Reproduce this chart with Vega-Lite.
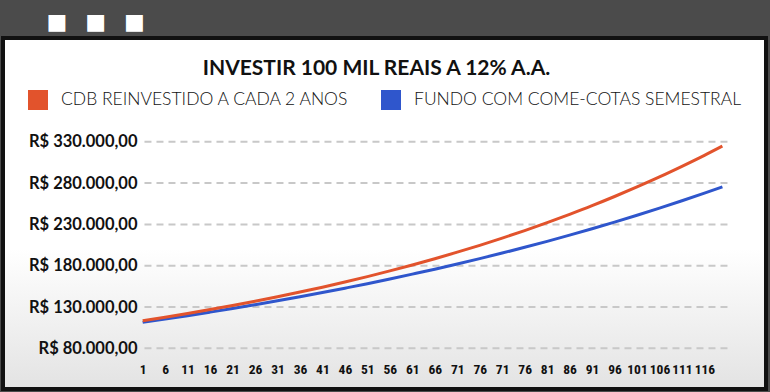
{
  "$schema": "https://vega.github.io/schema/vega-lite/v6.json",
  "autosize": {"type": "none"},
  "width": 763,
  "height": 351,
  "padding": {"left": 3, "top": 38, "right": 4, "bottom": 3},
  "background": "#4b4b4b",
  "config": {
    "locale": {"number": {"decimal": ",", "thousands": ".", "grouping": [3], "currency": ["R$ ", ""]}},
    "view": {
      "fill": {"gradient": "linear", "x1": 0, "y1": 0, "x2": 0, "y2": 1, "stops": [{"offset": 0, "color": "#ffffff"}, {"offset": 0.6, "color": "#ffffff"}, {"offset": 1, "color": "#e3e3e3"}]},
      "stroke": "#111111",
      "strokeWidth": 4
    },
    "axis": {"labelOverlap": false},
    "font": "Lato"
  },
  "title": {"text": "INVESTIR 100 MIL REAIS A 12% A.A.", "anchor": "middle", "offset": -37, "baseline": "alphabetic", "font": "Lato", "fontSize": 21, "fontWeight": "bold", "color": "#111111", "dx": -8, "dy": 49},
  "datasets": {
    "serie": [
      {"mes": 1, "cdb": 113400, "fundo": 111400},
      {"mes": 6, "cdb": 117700, "fundo": 115400},
      {"mes": 11, "cdb": 122200, "fundo": 119500},
      {"mes": 16, "cdb": 126900, "fundo": 123800},
      {"mes": 21, "cdb": 131800, "fundo": 128200},
      {"mes": 26, "cdb": 137000, "fundo": 132800},
      {"mes": 31, "cdb": 142400, "fundo": 137500},
      {"mes": 36, "cdb": 148100, "fundo": 142400},
      {"mes": 41, "cdb": 154000, "fundo": 147500},
      {"mes": 46, "cdb": 160300, "fundo": 152800},
      {"mes": 51, "cdb": 166800, "fundo": 158200},
      {"mes": 56, "cdb": 173700, "fundo": 163900},
      {"mes": 61, "cdb": 180900, "fundo": 169800},
      {"mes": 66, "cdb": 188500, "fundo": 175800},
      {"mes": 71, "cdb": 196400, "fundo": 182100},
      {"mes": 76, "cdb": 204700, "fundo": 188600},
      {"mes": 81, "cdb": 213400, "fundo": 195300},
      {"mes": 86, "cdb": 222500, "fundo": 202300},
      {"mes": 91, "cdb": 232100, "fundo": 209500},
      {"mes": 96, "cdb": 242200, "fundo": 217000},
      {"mes": 101, "cdb": 252700, "fundo": 224800},
      {"mes": 106, "cdb": 263800, "fundo": 232800},
      {"mes": 111, "cdb": 275400, "fundo": 241100},
      {"mes": 116, "cdb": 287500, "fundo": 249700},
      {"mes": 121, "cdb": 300300, "fundo": 258700},
      {"mes": 126, "cdb": 313600, "fundo": 267900},
      {"mes": 130, "cdb": 324800, "fundo": 275500}
    ],
    "grade": [{"v": 80000}, {"v": 130000}, {"v": 180000}, {"v": 230000}, {"v": 280000}, {"v": 330000}]
  },
  "layer": [
    {
      "data": {"name": "grade"},
      "mark": {"type": "rule", "strokeDash": [7, 5], "color": "#c8c8c8", "strokeWidth": 2},
      "encoding": {
        "y": {"field": "v", "type": "quantitative",
          "scale": {"domain": [30730, 455700], "nice": false, "zero": false},
          "axis": {"values": [80000, 130000, 180000, 230000, 280000, 330000], "format": "$,.2f", "offset": -134, "grid": false, "ticks": false, "tickSize": 0, "domain": false, "labelPadding": 0, "labelFont": "Lato", "labelFontSize": 16.5, "labelFontWeight": "bold", "labelColor": "#111111", "title": "■ \u2002■ \u2002■", "titleAngle": 0, "titleX": -91, "titleY": -17, "titleAlign": "left", "titleBaseline": "middle", "titleColor": "#ffffff", "titleFont": "DejaVu Sans", "titleFontSize": 22, "titleFontWeight": "normal"}},
        "x": {"datum": 1.4, "type": "quantitative",
          "scale": {"domain": [-30.08, 139.7], "nice": false, "zero": false},
          "axis": {"values": [1, 6, 11, 16, 21, 26, 31, 36, 41, 46, 51, 56, 61, 66, 71, 76, 81, 86, 91, 96, 101, 106, 111, 116, 121, 126], "labelExpr": "['1','6','11','16','21','26','31','36','41','46','51','56','61','66','71','76','71','76','81','86','91','96','101','106','111','116'][round((datum.value-1)/5)]", "offset": -27, "grid": false, "ticks": false, "tickSize": 0, "domain": false, "labelPadding": 0, "labelOverlap": false, "labelFlush": false, "labelFont": "Roboto Condensed, Inter", "labelFontSize": 13.5, "labelFontWeight": "bold", "labelColor": "#111111", "title": null}},
        "x2": {"datum": 132}
      }
    },
    {
      "data": {"name": "serie"},
      "mark": {"type": "line", "strokeWidth": 3, "interpolate": "monotone"},
      "encoding": {
        "x": {"field": "mes", "type": "quantitative", "scale": {"domain": [-30.08, 139.7], "nice": false, "zero": false},
          "axis": {"values": [1, 6, 11, 16, 21, 26, 31, 36, 41, 46, 51, 56, 61, 66, 71, 76, 81, 86, 91, 96, 101, 106, 111, 116, 121, 126], "labelExpr": "['1','6','11','16','21','26','31','36','41','46','51','56','61','66','71','76','71','76','81','86','91','96','101','106','111','116'][round((datum.value-1)/5)]", "offset": -27, "grid": false, "ticks": false, "tickSize": 0, "domain": false, "labelPadding": 0, "labelOverlap": false, "labelFlush": false, "labelFont": "Roboto Condensed, Inter", "labelFontSize": 13.5, "labelFontWeight": "bold", "labelColor": "#111111", "title": null}},
        "y": {"field": "fundo", "type": "quantitative", "scale": {"domain": [30730, 455700], "nice": false, "zero": false}},
        "color": {"datum": "FUNDO COM COME-COTAS SEMESTRAL",
          "scale": {"domain": ["CDB REINVESTIDO A CADA 2 ANOS", "FUNDO COM COME-COTAS SEMESTRAL"], "range": ["#e2532c", "#2f56cc"]},
          "legend": {"orient": "none", "legendX": 25, "legendY": 52, "direction": "horizontal", "title": null, "symbolType": "square", "symbolSize": 324, "symbolStrokeWidth": 2, "symbolStrokeColor": "#111111", "labelFont": "Lato", "labelFontSize": 17.5, "labelFontWeight": 300, "labelLimit": 500, "labelColor": "#111111", "labelOffset": 13, "columnPadding": 28,
            "encode": {"symbols": {"update": {"fill": {"scale": "color", "field": "value"}, "stroke": {"value": "#111111"}, "fillOpacity": {"value": 1}, "strokeWidth": {"value": 2}}}}}}
      }
    },
    {
      "data": {"name": "serie"},
      "mark": {"type": "line", "strokeWidth": 3, "interpolate": "monotone"},
      "encoding": {
        "x": {"field": "mes", "type": "quantitative", "scale": {"domain": [-30.08, 139.7], "nice": false, "zero": false},
          "axis": {"values": [1, 6, 11, 16, 21, 26, 31, 36, 41, 46, 51, 56, 61, 66, 71, 76, 81, 86, 91, 96, 101, 106, 111, 116, 121, 126], "labelExpr": "['1','6','11','16','21','26','31','36','41','46','51','56','61','66','71','76','71','76','81','86','91','96','101','106','111','116'][round((datum.value-1)/5)]", "offset": -27, "grid": false, "ticks": false, "tickSize": 0, "domain": false, "labelPadding": 0, "labelOverlap": false, "labelFlush": false, "labelFont": "Roboto Condensed, Inter", "labelFontSize": 13.5, "labelFontWeight": "bold", "labelColor": "#111111", "title": null}},
        "y": {"field": "cdb", "type": "quantitative", "scale": {"domain": [30730, 455700], "nice": false, "zero": false}},
        "color": {"datum": "CDB REINVESTIDO A CADA 2 ANOS",
          "scale": {"domain": ["CDB REINVESTIDO A CADA 2 ANOS", "FUNDO COM COME-COTAS SEMESTRAL"], "range": ["#e2532c", "#2f56cc"]},
          "legend": {"orient": "none", "legendX": 25, "legendY": 52, "direction": "horizontal", "title": null, "symbolType": "square", "symbolSize": 324, "symbolStrokeWidth": 2, "symbolStrokeColor": "#111111", "labelFont": "Lato", "labelFontSize": 17.5, "labelFontWeight": 300, "labelLimit": 500, "labelColor": "#111111", "labelOffset": 13, "columnPadding": 28,
            "encode": {"symbols": {"update": {"fill": {"scale": "color", "field": "value"}, "stroke": {"value": "#111111"}, "fillOpacity": {"value": 1}, "strokeWidth": {"value": 2}}}}}}
      }
    }
  ]
}
